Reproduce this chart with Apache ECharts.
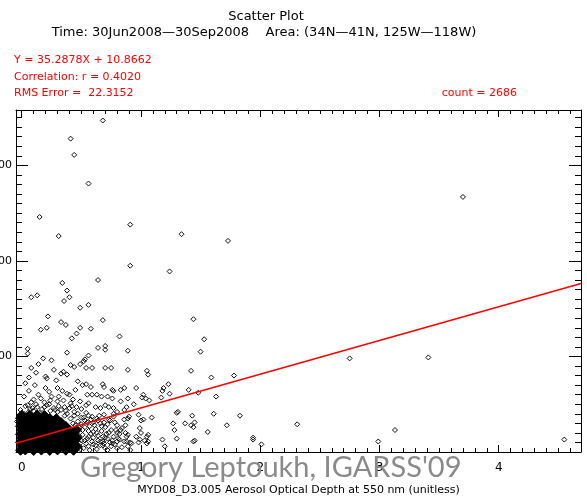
<!DOCTYPE html>
<html>
<head>
<meta charset="utf-8">
<title>Scatter Plot</title>
<script src="https://cdn.jsdelivr.net/npm/echarts@6/dist/echarts.min.js"></script>
<style>
html, body { margin: 0; padding: 0; background: #fff; }
#chart { width: 587px; height: 498px; }
</style>
</head>
<body>
<div id="chart"></div>
<script>
// regression shown in the header
var fitSlope = 35.2878;
var fitIntercept = 10.8662;

var xRange = [-0.048, 4.69];
var yRange = [0, 358];
var xTickLabels = [0, 1, 2, 3, 4];
var yTickLabels = [100, 200, 300];

// single points (AOD, y)
var scatterPoints = [
  [0.68,347],[0.41,328],[0.44,311],[0.56,281],[0.15,246],[0.91,238],[0.31,226],[1.34,228],[1.73,221],[3.70,267],
  [0.91,195],[1.24,189],[0.34,177],[0.64,180],[0.38,169],[0.40,162],[0.13,164],[0.08,162],[0.355,158],[0.49,151],
  [0.56,154],[0.22,142],[0.68,138],[0.33,136],[0.37,133],[0.16,128],[0.21,130],[0.49,130],[0.58,129],[0.46,124],
  [0.42,119],[0.82,121],[0.05,108],[0.05,103],[0.38,104],[0.64,109],[0.70,111],[0.70,107],[0.89,106],[0.18,98],
  [0.25,96],[0.53,97],[0.56,101],[1.50,105],[1.44,139],[1.53,118],
  [0.49,92],[0.52,95],[0.44,89],[0.41,91],[0.59,88],[0.54,88],[0.70,88],[0.75,88],[0.89,86],[0.12,83],
  [0.20,79],[0.21,77],[0.29,75],[0.33,82],[0.35,84],[0.38,81],[0.47,74],[0.51,70],[0.54,71],[0.58,68],
  [0.68,71],[0.77,64],[0.86,67],[0.20,67],[0.23,63],[0.30,67],[0.34,64],[0.38,61],[0.45,65],[0.55,60],
  [0.59,60],[0.63,60],[0.67,58],[0.72,58],[0.76,56],[0.83,53],[0.16,56],[0.24,54],[0.30,53],[0.35,54],
  [0.41,51],[0.49,53],[0.54,49],[0.56,51],[0.62,47],[0.66,46],[0.70,49],[0.77,46],[0.80,42],[0.86,44],
  [0.05,49],[0.09,46],[0.13,47],[0.21,49],[0.27,46],[0.33,44],[0.40,46],[0.44,42],[0.54,41],[0.59,37],
  [0.63,35],[0.69,39],[0.73,34],[0.77,37],[0.86,34],[0.90,37],[0.66,30],[0.70,26],[0.75,23],[0.80,28],
  [0.83,23],[0.87,20],[0.63,20],[0.68,16],[0.72,14],[0.77,16],[0.82,13],[0.86,11],[0.51,18],[0.55,14],
  [0.59,11],[0.62,7],[0.66,7],[0.70,4],[0.75,6],[0.80,4],[0.89,6],[0.91,2],[0.49,9],[0.52,4],
  [0.56,6],[0.48,26],[0.51,23],[0.47,32],[-0.01,44],[0.02,40],[-0.04,32],
  [0.02,58],[0.06,64],[0.10,55],[0.03,72],[0.08,52],[0.14,60],[0.11,70],[0.17,45],[0.25,58],[0.28,44],
  [0.19,52],[0.36,47],[0.31,58],[0.43,55],[0.46,47],[0.40,60],[0.08,88],[0.14,92],[0.27,86],[0.06,78],
  [0.50,29],[0.53,33],[0.57,27],[0.60,31],[0.62,24],[0.58,19],[0.54,9],[0.57,2],[0.60,15],[0.64,12],
  [0.71,19],[0.74,10],[0.78,8],[0.84,5],[0.65,38],[0.56,38],[0.44,38],[0.38,40],[0.30,42],[0.24,43],
  [0.10,43],[0.06,42],[0.15,41],
  [0.52,36],[0.55,31],[0.58,34],[0.61,28],[0.64,33],[0.67,27],[0.69,31],[0.72,29],[0.74,33],[0.78,31],
  [0.53,26],[0.56,22],[0.60,21],[0.64,17],[0.67,22],[0.70,15],[0.73,20],[0.76,12],[0.79,23],[0.82,19],
  [0.53,12],[0.56,16],[0.60,8],[0.63,3],[0.66,11],[0.69,9],[0.72,2],[0.76,9],[0.81,14],[0.84,25],
  [0.03,48],[0.07,45],[0.12,50],[0.19,47],[0.23,50],[0.31,48],[0.37,43],[0.42,48],[0.47,40],[0.50,45],
  [0.36,38],[0.41,35],[0.43,30],[0.45,28],[0.50,36],[0.48,17],[0.50,12],[0.49,3],
  [1.42,85],[1.05,85],[1.06,81],[1.59,78],[1.78,80],[1.40,65],[1.48,62],[1.18,64],[1.17,57],[1.24,61],
  [1.23,71],[1.19,67],[1.02,60],[1.04,56],[1.07,54],[1.01,57],[0.96,67],[0.89,56],[0.88,47],[0.94,50],
  [0.83,65],[0.76,65],[0.69,68],[0.73,47],[0.77,40],[1.63,58],[1.61,40],[1.83,38],[1.72,28],[1.56,21],
  [1.43,38],[1.44,26],[1.44,11],[1.45,12],[1.30,41],[1.31,42],[1.27,30],[1.28,23],[1.18,13],[1.20,6],
  [1.37,30],[1.42,28],[1.45,31],[1.30,14],[1.02,34],[1.00,33],[1.09,36],[0.98,39],[0.99,25],[1.00,20],
  [1.05,16],[1.06,11],[0.96,16],[0.88,16],[0.88,11],[0.80,20],[0.80,11],[0.68,11],[0.68,7],[0.89,18],
  [0.99,13],[1.03,12],[1.06,18],[1.05,9],[0.98,10],[0.91,10],[0.87,28],[0.89,35],[0.92,9],
  [1.94,15],[1.94,13],[2.01,8],[2.31,29],[2.75,98],[3.41,99],[2.99,11],[3.13,23],[4.55,13]
];

// the solid black cluster near the origin
var densePoints = [
  [-0.01,1.8],[0.03,2.1],[0.10,1.6],[0.165,2.0],[0.235,1.7],[0.30,2.2],[0.37,1.9],[0.435,1.8],
  [0.0,6.0],[0.065,6.3],[0.13,5.8],[0.20,6.1],[0.265,5.9],[0.335,6.2],[0.40,6.0],[0.465,5.7],
  [-0.01,10.2],[0.03,10.0],[0.10,10.4],[0.165,10.1],[0.235,10.3],[0.30,9.9],[0.37,10.2],[0.435,10.5],
  [0.0,14.4],[0.065,14.2],[0.13,14.6],[0.20,14.3],[0.265,14.5],[0.335,14.1],[0.40,14.4],[0.465,14.7],
  [-0.01,18.6],[0.03,18.8],[0.10,18.4],[0.165,18.7],[0.235,18.5],[0.30,18.9],[0.37,18.6],[0.435,18.3],
  [0.0,22.8],[0.065,22.6],[0.13,23.0],[0.20,22.7],[0.265,22.9],[0.335,22.5],[0.40,22.8],[0.46,23.1],
  [-0.01,27.0],[0.03,27.2],[0.10,26.8],[0.165,27.1],[0.235,26.9],[0.30,27.3],[0.37,26.7],
  [0.0,31.2],[0.065,31.0],[0.13,31.4],[0.20,31.1],[0.265,31.3],[0.33,30.8],
  [-0.01,35.4],[0.03,35.2],[0.10,35.6],[0.165,35.3],[0.235,35.1],[0.29,34.8],
  [0.0,38.6],[0.065,38.3],[0.13,38.8],[0.19,38.2]
];

var xMinorTicks = [];
for (var i = 1; i <= 46; i++) { if (i % 10) xMinorTicks.push(i / 10); }
var yMinorTicks = [];
for (var j = 10; j <= 350; j += 10) { if (j % 100) yMinorTicks.push(j); }

var fitLine = [
  [xRange[0], fitIntercept + fitSlope * xRange[0]],
  [xRange[1], fitIntercept + fitSlope * xRange[1]]
];

var FONT = '"DejaVu Sans", sans-serif';

function makeAxis(pos, range, ticks, len, labels, showLine, labelMargin, labelSize) {
  return {
    type: 'value',
    position: pos,
    min: range[0],
    max: range[1],
    axisLine: { show: showLine, onZero: false, lineStyle: { color: '#000', width: 1 } },
    axisTick: { show: true, inside: true, length: len, customValues: ticks, lineStyle: { color: '#000', width: 1 } },
    axisLabel: labels ? {
      show: true, customValues: labels, margin: labelMargin,
      color: '#000', fontSize: labelSize, fontFamily: FONT
    } : { show: false },
    splitLine: { show: false },
    minorTick: { show: false }
  };
}

var chart = echarts.init(document.getElementById('chart'));

var xMain = makeAxis('bottom', xRange, xTickLabels, 7, xTickLabels, true, 10, 12);
xMain.name = 'MYD08_D3.005 Aerosol Optical Depth at 550 nm (unitless)';
xMain.nameLocation = 'middle';
xMain.nameGap = 33;
xMain.nameTextStyle = { color: '#000', fontSize: 11, fontFamily: FONT };

chart.setOption({
  animation: false,
  backgroundColor: '#fff',
  grid: { left: 16, right: 6, top: 110, bottom: 46, containLabel: false, outerBoundsMode: 'none' },
  xAxis: [
    xMain,
    makeAxis('bottom', xRange, xMinorTicks, 4, null, false),
    makeAxis('top', xRange, xTickLabels, 7, null, true),
    makeAxis('top', xRange, xMinorTicks, 4, null, false)
  ],
  yAxis: [
    makeAxis('left', yRange, yTickLabels, 12, yTickLabels, true, 4, 11),
    makeAxis('left', yRange, yMinorTicks, 6, null, false),
    makeAxis('right', yRange, yTickLabels, 12, null, true),
    makeAxis('right', yRange, yMinorTicks, 6, null, false)
  ],
  graphic: [
    { type: 'text', x: 266, y: 17, style: { text: 'Scatter Plot', font: '13px ' + FONT, fill: '#000', align: 'center', textAlign: 'center', verticalAlign: 'middle', textVerticalAlign: 'middle' } },
    { type: 'text', x: 264, y: 33, style: { text: 'Time: 30Jun2008\u201430Sep2008    Area: (34N\u201441N, 125W\u2014118W)', font: '13px ' + FONT, fill: '#000', align: 'center', textAlign: 'center', verticalAlign: 'middle', textVerticalAlign: 'middle' } },
    { type: 'text', x: 14, y: 60, style: { text: 'Y = 35.2878X + 10.8662', font: '11px ' + FONT, fill: '#ff0000', align: 'left', textAlign: 'left', verticalAlign: 'middle', textVerticalAlign: 'middle' } },
    { type: 'text', x: 14, y: 77, style: { text: 'Correlation: r = 0.4020', font: '11px ' + FONT, fill: '#ff0000', align: 'left', textAlign: 'left', verticalAlign: 'middle', textVerticalAlign: 'middle' } },
    { type: 'text', x: 14, y: 93, style: { text: 'RMS Error =  22.3152', font: '11px ' + FONT, fill: '#ff0000', align: 'left', textAlign: 'left', verticalAlign: 'middle', textVerticalAlign: 'middle' } },
    { type: 'text', x: 517, y: 93, style: { text: 'count = 2686', font: '11px ' + FONT, fill: '#ff0000', align: 'right', textAlign: 'right', verticalAlign: 'middle', textVerticalAlign: 'middle' } },
    { type: 'text', x: 80, y: 468, z: 100, style: { text: "Gregory Leptoukh, IGARSS'09", font: '29px Lato, "Open Sans", sans-serif', fill: '#8a8a8a', align: 'left', textAlign: 'left', verticalAlign: 'middle', textVerticalAlign: 'middle' } }
  ],
  series: [
    {
      name: 'dense', type: 'scatter', xAxisIndex: 0, yAxisIndex: 0,
      data: densePoints, symbol: 'diamond', symbolSize: 10, silent: true, z: 2,
      itemStyle: { color: '#000', borderColor: '#000', borderWidth: 1, opacity: 1 }
    },
    {
      name: 'points', type: 'scatter', xAxisIndex: 0, yAxisIndex: 0,
      data: scatterPoints, symbol: 'diamond', symbolSize: 5, silent: true, z: 3,
      itemStyle: { color: 'rgba(0,0,0,0)', borderColor: '#111', borderWidth: 1, opacity: 1 }
    },
    {
      name: 'fit', type: 'line', xAxisIndex: 0, yAxisIndex: 0,
      data: fitLine, symbol: 'none', silent: true, z: 4,
      lineStyle: { color: '#ff0000', width: 1.5 }
    }
  ]
});
</script>
</body>
</html>
